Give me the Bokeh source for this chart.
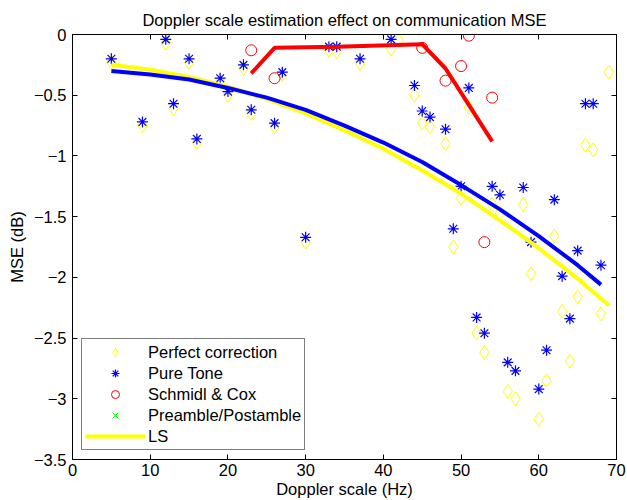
from bokeh.plotting import figure
from bokeh.models import (LinearAxis, FixedTicker, CustomJSTickFormatter, Legend,
                          LegendItem, Range1d, CustomLabelingPolicy)
from bokeh.embed import file_html
from bokeh.resources import INLINE

FONT = "Liberation Sans"
FS = "16.5px"

title_text = "Doppler scale estimation effect on communication MSE"
x_label = "Doppler scale (Hz)"
y_label = "MSE (dB)"

x_ticks = [0, 10, 20, 30, 40, 50, 60, 70]
y_ticks = [0, -0.5, -1, -1.5, -2, -2.5, -3, -3.5]

# Perfect correction (yellow diamonds)
perfect_x = [5, 9, 12, 13, 15, 16, 19, 20, 22, 23, 26, 27, 30, 33, 34, 37, 41, 42,
             44, 45, 46, 48, 49, 50, 51, 52, 53, 54, 55, 56, 57, 58, 59, 60, 61,
             62, 63, 64, 65, 66, 67, 68, 69]
perfect_y = [-0.23, -0.75, -0.07, -0.61, -0.23, -0.89, -0.38, -0.50, -0.28, -0.65,
             -0.76, -0.33, -1.71, -0.13, -0.14, -0.24, -0.12, -0.05,
             -0.50, -0.73, -0.76, -0.90, -1.75, -1.35, -0.60, -2.46, -2.62, -1.40,
             -1.47, -2.94, -3.00, -1.40, -1.97, -3.17, -2.85, -1.66, -2.28, -2.69,
             -2.16, -0.91, -0.95, -2.30, -0.31]

# Pure Tone (blue asterisks)
tone_x = [5, 9, 12, 13, 15, 16, 19, 20, 22, 23, 26, 27, 30, 33, 34, 37, 41,
          44, 45, 46, 48, 49, 50, 51, 52, 53, 54, 55, 56, 57, 58, 59, 60, 61,
          62, 63, 64, 65, 66, 67, 68]
tone_y = [-0.20, -0.72, -0.04, -0.57, -0.20, -0.86, -0.36, -0.47, -0.25, -0.62,
          -0.73, -0.31, -1.67, -0.10, -0.10, -0.20, -0.04,
          -0.42, -0.63, -0.68, -0.78, -1.60, -1.25, -0.44, -2.33, -2.46, -1.25,
          -1.32, -2.70, -2.77, -1.26, -1.71, -2.92, -2.60, -1.36, -1.99, -2.34,
          -1.78, -0.57, -0.57, -1.90]

# Schmidl & Cox (red circles)
sc_x = [23, 26, 45, 48, 50, 51, 53, 54]
sc_y = [-0.13, -0.36, -0.11, -0.38, -0.26, -0.01, -1.71, -0.52]

# Preamble/Postamble (green crosses) - no visible points in the plot
pp_x = [float("nan")]
pp_y = [float("nan")]

# LS fit (yellow line)
ls_x = [5, 10, 15, 20, 25, 30, 35, 40, 45, 50, 55, 60, 65, 69]
ls_y = [-0.25, -0.29, -0.35, -0.43, -0.53, -0.65, -0.79, -0.94, -1.12, -1.31,
        -1.53, -1.76, -2.01, -2.23]

# Pure tone fit (blue line)
tone_fit_x = [5, 10, 15, 20, 25, 30, 35, 40, 45, 50, 55, 60, 65, 68]
tone_fit_y = [-0.30, -0.33, -0.37, -0.44, -0.52, -0.62, -0.75, -0.89, -1.05, -1.24,
              -1.44, -1.66, -1.90, -2.06]

# Schmidl & Cox fit (red line)
sc_fit_x = [23, 26, 34, 45, 48, 51, 54]
sc_fit_y = [-0.32, -0.11, -0.10, -0.08, -0.28, -0.58, -0.88]

YELLOW = "#FFFF00"
BLUE = "#0000FF"
RED = "#FF0000"
GREEN = "#00FF00"

p = figure(width=627, height=500, output_backend="svg", toolbar_location=None,
           x_range=Range1d(0, 70), y_range=Range1d(-3.5, 0),
           min_border_left=72, min_border_right=11, min_border_top=34,
           min_border_bottom=40, background_fill_color="white",
           border_fill_color="white", outline_line_color="black",
           outline_line_width=1)

p.title.text = title_text
p.title.align = "center"
p.title.text_font = FONT
p.title.text_font_size = FS
p.title.text_font_style = "normal"
p.title.text_color = "black"
p.title.standoff = 12

p.xgrid.visible = False
p.ygrid.visible = False

fmt_y = CustomJSTickFormatter(code="""
    if (tick == 0) return "0";
    return (tick < 0 ? "\u2212" : "") + Math.abs(tick).toString();
""")

no_labels = CustomLabelingPolicy(code="""
    const all = [...indices];
    for (const i of all) indices.unset(i);
    return indices;
""")


def style_axis(ax, show_labels=True):
    ax.major_tick_in = 5
    ax.major_tick_out = 0
    ax.minor_tick_line_color = None
    ax.axis_line_color = "black"
    ax.major_tick_line_color = "black"
    ax.major_label_text_font = FONT
    ax.major_label_text_color = "black"
    ax.axis_label_text_font = FONT
    ax.axis_label_text_font_style = "normal"
    ax.axis_label_text_color = "black"
    ax.axis_label_text_font_size = FS
    if show_labels:
        ax.major_label_text_font_size = FS
    else:
        ax.major_label_text_font_size = "0px"
        ax.major_label_policy = no_labels
        ax.major_label_standoff = 0


xa = p.xaxis[0]
xa.ticker = FixedTicker(ticks=x_ticks)
xa.axis_label = x_label
style_axis(xa)
xa.major_label_standoff = 4
xa.axis_label_standoff = 1

ya = p.yaxis[0]
ya.ticker = FixedTicker(ticks=y_ticks)
ya.formatter = fmt_y
ya.axis_label = y_label
style_axis(ya)
ya.major_label_standoff = 6
ya.axis_label_standoff = 5

top = LinearAxis(ticker=FixedTicker(ticks=x_ticks))
style_axis(top, show_labels=False)
p.add_layout(top, "above")
right = LinearAxis(ticker=FixedTicker(ticks=y_ticks))
style_axis(right, show_labels=False)
p.add_layout(right, "right")

r_perfect = p.scatter(perfect_x, perfect_y, marker="diamond", size=14,
                      fill_color=None, line_color=YELLOW, line_width=1)
r_tone = p.scatter(tone_x, tone_y, marker="asterisk", size=11,
                   line_color=BLUE, line_width=1.2)
r_sc = p.scatter(sc_x, sc_y, marker="circle", size=11, fill_color=None,
                 line_color=RED, line_width=1)
r_pp = p.scatter(pp_x, pp_y, marker="x", size=9, line_color=GREEN, line_width=1)

r_ls = p.line(ls_x, ls_y, line_color=YELLOW, line_width=4)
p.line(tone_fit_x, tone_fit_y, line_color=BLUE, line_width=4)
p.line(sc_fit_x, sc_fit_y, line_color=RED, line_width=4)

legend = Legend(items=[
    LegendItem(label="Perfect correction", renderers=[r_perfect]),
    LegendItem(label="Pure Tone", renderers=[r_tone]),
    LegendItem(label="Schmidl & Cox", renderers=[r_sc]),
    LegendItem(label="Preamble/Postamble", renderers=[r_pp]),
    LegendItem(label="LS", renderers=[r_ls]),
], location=(9, 9))
legend.label_text_font = FONT
legend.label_text_font_size = FS
legend.label_text_color = "black"
legend.border_line_color = "black"
legend.border_line_width = 1
legend.background_fill_color = "white"
legend.background_fill_alpha = 1
legend.padding = 3
legend.margin = 0
legend.spacing = 1
legend.glyph_width = 60
legend.glyph_height = 20
legend.label_height = 20
legend.label_standoff = 3
p.add_layout(legend, "center")

open("out.html", "w").write(file_html(p, INLINE))
